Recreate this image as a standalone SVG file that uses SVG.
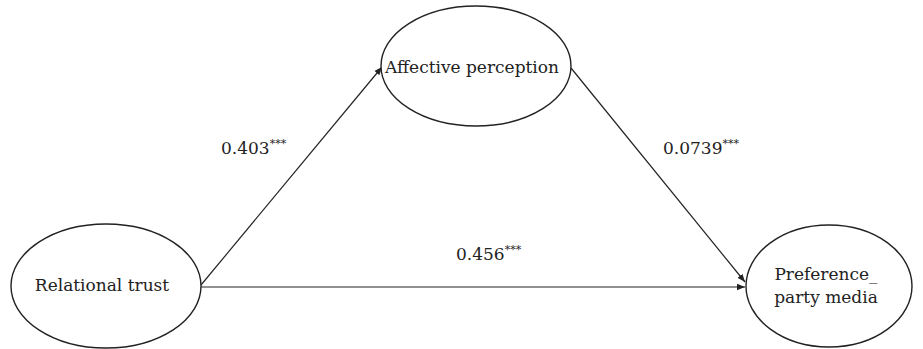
<svg xmlns="http://www.w3.org/2000/svg" width="923" height="349" viewBox="0 0 923 349">
<style>
.node ellipse{fill:#fff;stroke:#222;stroke-width:1.4}
text{font-family:"DejaVu Serif","Liberation Serif",serif;font-size:17px;fill:#222}
.lbl{font-size:17px}
.sup{font-size:11px}
.edge{stroke:#222;stroke-width:1.2;fill:none;marker-end:url(#ah)}
</style>
<defs>
<marker id="ah" viewBox="0 0 10 10" refX="10" refY="5" markerWidth="8" markerHeight="8" markerUnits="userSpaceOnUse" orient="auto">
<path d="M0,1 L10,5 L0,9 z" fill="#222"/>
</marker>
</defs>
<g id="connectors">
<line class="edge" x1="201" y1="285" x2="382" y2="67"/>
<line class="edge" x1="571" y1="68" x2="745" y2="282"/>
<line class="edge" x1="201" y1="287" x2="745" y2="287"/>
</g>
<g id="labels">
<text class="lbl" x="221" y="154">0.403<tspan class="sup" dy="-7">***</tspan></text>
<text class="lbl" x="663" y="154">0.0739<tspan class="sup" dy="-7">***</tspan></text>
<text class="lbl" x="456" y="260">0.456<tspan class="sup" dy="-7">***</tspan></text>
</g>
<g id="relational-trust" class="node">
<ellipse cx="106" cy="286" rx="95" ry="62"/>
<text x="102" y="291" text-anchor="middle">Relational trust</text>
</g>
<g id="affective-perception" class="node">
<ellipse cx="476" cy="66" rx="95" ry="60"/>
<text x="472" y="73" text-anchor="middle">Affective perception</text>
</g>
<g id="preference-party-media" class="node">
<ellipse cx="829" cy="286" rx="83" ry="61"/>
<text x="826" y="280" text-anchor="middle">Preference_</text>
<text x="826" y="303" text-anchor="middle">party media</text>
</g>
</svg>
